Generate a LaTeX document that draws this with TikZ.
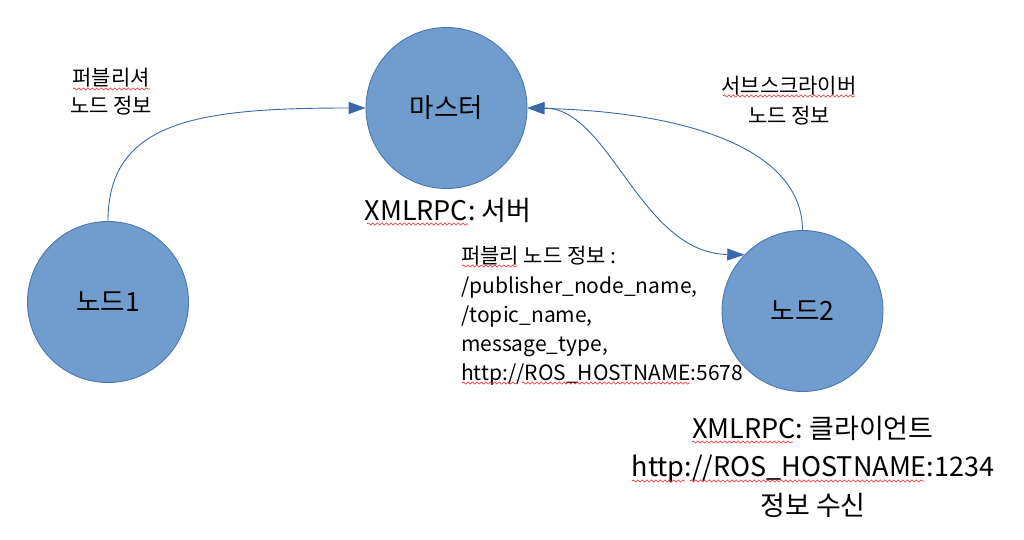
\documentclass[tikz,border=0pt]{standalone}
\usepackage{fontspec}
\setmainfont{Noto Sans CJK KR}
\usetikzlibrary{arrows.meta,decorations.pathmorphing}
\definecolor{nodefill}{HTML}{709CCE}
\definecolor{nodeedge}{HTML}{4C77AE}
\definecolor{arrowc}{HTML}{3B68AB}
\definecolor{squig}{HTML}{F02020}
\tikzset{
  bignode/.style={circle, draw=nodeedge, line width=0.9pt, fill=nodefill, minimum size=161pt, inner sep=0pt, font=\fontsize{26.5}{30}\selectfont},
  conn/.style={draw=arrowc, line width=0.9pt, -{Triangle[length=17pt,width=12pt]}},
  biconn/.style={draw=arrowc, line width=0.9pt, {Triangle[length=17pt,width=12pt]}-{Triangle[length=17pt,width=12pt]}},
  smalltxt/.style={anchor=base, inner sep=0pt, font=\fontsize{21}{24}\selectfont},
  blocktxt/.style={anchor=base west, inner sep=0pt, font=\fontsize{21}{24}\selectfont},
  largetxt/.style={anchor=base, inner sep=0pt, font=\fontsize{27}{30}\selectfont},
  wavy/.style={draw=squig, line width=0.6pt, decorate, decoration={snake, segment length=4.5pt, amplitude=1.1pt}}
}
\begin{document}
\begin{tikzpicture}[x=1pt,y=-1pt]
\useasboundingbox (0,0) rectangle (1024,540);
% circles
\node[bignode] (master) at (446.5,108) {마스터};
\node[bignode] (n1) at (108,302) {노드1};
\node[bignode] (n2) at (802.5,311) {노드2};
% connectors
\draw[conn] (n1.north) .. controls (108,120) and (200,108) .. (master.west);
\draw[conn] (n2.north) .. controls (802,150) and (690,112) .. (master.east);
\draw[biconn] (master.east) .. controls (610,108) and (640,253) .. (n2.136);
% labels
\node[smalltxt] (pub1) at (111,86) {퍼블리셔};
\node[smalltxt] (pub2) at (111,114) {노드 정보};
\node[smalltxt] (sub1) at (789,94) {서브스크라이버};
\node[smalltxt] (sub2) at (789,124) {노드 정보};
\node[largetxt] (srv) at (448,220) {XMLRPC: 서버};
\node[blocktxt] (b1) at (461,263.5) {퍼블리 노드 정보 :};
\node[blocktxt] (b2) at (461,293) {/publisher\_node\_name,};
\node[blocktxt] (b3) at (461,322.5) {/topic\_name,};
\node[blocktxt] (b4) at (461,351.5) {message\_type,};
\node[blocktxt] (b5) at (461,380.5) {http://ROS\_HOSTNAME:5678};
\node[largetxt] (c1) at (813,438) {XMLRPC: 클라이언트};
\node[largetxt] (c2) at (813,476) {http://ROS\_HOSTNAME:1234};
\node[largetxt] (c3) at (813,515) {정보 수신};
% spell-check squiggles
\draw[wavy] (73,89) -- (150,89);
\draw[wavy] (723,96) -- (855,96);
\draw[wavy] (367,224) -- (468,224);
\draw[wavy] (462,266) -- (517,266);
\draw[wavy] (462,383) -- (517,383);
\draw[wavy] (522,383) -- (690,383);
\draw[wavy] (692,442) -- (793,442);
\draw[wavy] (632,481) -- (685,481);
\draw[wavy] (690,481) -- (924,481);
\end{tikzpicture}
\end{document}
